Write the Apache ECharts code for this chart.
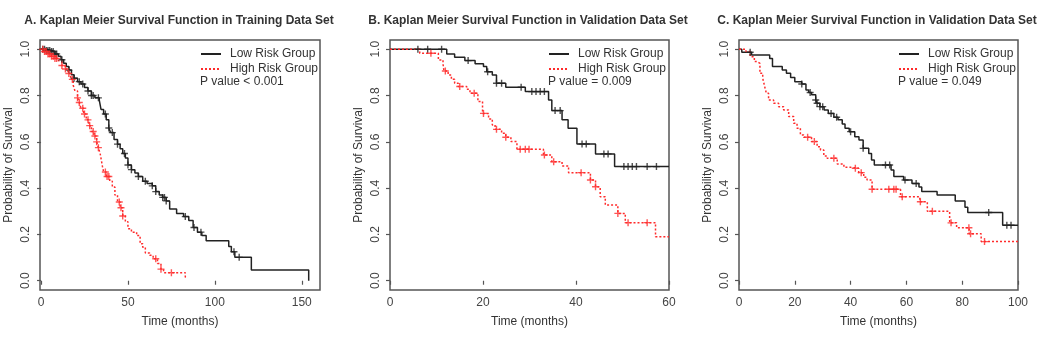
<!DOCTYPE html>
<html lang="en">
<head>
  <meta charset="UTF-8">
  <title>chart</title>
</head>
<body style="margin:0;background:#fff">
<div id="main" style="width: 1039px;height:352px;"></div>
<script src="https://cdn.jsdelivr.net/npm/echarts@6/dist/echarts.min.js"></script>
<script>
// step points: time (months) and survival after that time, plus censor times
var aLowT = [0, 3, 6, 8, 10, 11.5, 13, 14.5, 16, 17.5, 19, 21, 23, 25, 27, 29, 31, 33.5, 34.5, 36, 37.5, 39, 40, 42, 44, 45.5, 47, 48.5, 50, 52, 54, 56, 58.5, 61, 64, 66, 68, 70, 72, 74, 78, 82, 85, 87.5, 90, 92.5, 95, 108, 109.5, 111.5, 121, 154];
var aLowS = [1, 0.995, 0.99, 0.98, 0.97, 0.955, 0.94, 0.925, 0.91, 0.89, 0.875, 0.86, 0.85, 0.835, 0.82, 0.8, 0.79, 0.78, 0.74, 0.72, 0.695, 0.66, 0.64, 0.61, 0.59, 0.57, 0.55, 0.53, 0.5, 0.48, 0.465, 0.45, 0.43, 0.42, 0.41, 0.385, 0.37, 0.36, 0.345, 0.31, 0.29, 0.277, 0.26, 0.23, 0.21, 0.195, 0.173, 0.148, 0.125, 0.101, 0.046, 0];
var aLowCens = [1, 2, 3, 4, 5, 6, 7, 8, 9, 12, 16, 19, 22, 24, 27, 29, 30, 33, 37, 39, 41, 44, 48, 50, 52, 56, 60, 64, 66, 70, 71, 72, 83, 88, 92, 111, 114];
var aHighT = [0, 2, 4, 6, 8, 10, 12, 14, 15.5, 17, 18.5, 19.5, 21, 22, 23, 24.5, 26, 27.5, 29, 30.5, 32, 33, 34, 34.7, 35.3, 36, 37.5, 39.5, 41, 42.5, 44, 45.5, 47, 48.5, 50, 52, 55, 57, 58.5, 60, 62.5, 64.5, 67, 69, 70.5, 83, 84];
var aHighS = [1, 0.99, 0.98, 0.97, 0.96, 0.95, 0.93, 0.915, 0.895, 0.87, 0.845, 0.82, 0.79, 0.77, 0.745, 0.72, 0.695, 0.67, 0.645, 0.625, 0.6, 0.575, 0.55, 0.52, 0.495, 0.47, 0.45, 0.43, 0.405, 0.37, 0.34, 0.315, 0.28, 0.255, 0.225, 0.21, 0.195, 0.16, 0.145, 0.12, 0.11, 0.095, 0.075, 0.05, 0.035, 0.015, 0.015];
var aHighCens = [1, 2, 3, 4, 5, 6, 7, 8, 9, 12, 14, 16, 18, 21, 22, 24, 25, 27, 28, 30, 31, 32, 33, 37, 38, 39, 45, 46, 47, 66, 69, 75];

var bLowT = [0, 12.2, 13.9, 16.1, 18.3, 20.1, 20.8, 22, 22.9, 24.9, 29.1, 34.1, 34.8, 37, 38.3, 40.2, 44.2, 48.3, 60];
var bLowS = [1, 0.98, 0.965, 0.951, 0.937, 0.925, 0.903, 0.889, 0.853, 0.836, 0.817, 0.781, 0.735, 0.695, 0.659, 0.591, 0.548, 0.493, 0.493];
var bLowCens = [6, 8.1, 11.1, 16.8, 21, 22.9, 24, 28.2, 30.5, 31.4, 32.3, 33.2, 35.5, 36.6, 41.3, 42.2, 46, 46.9, 50.3, 51.2, 52.1, 53, 55.3, 57.3];
var bHighT = [0, 6.4, 10.4, 11.4, 11.6, 12.5, 13.2, 13.9, 14.7, 16.5, 17.2, 18.9, 19.9, 21.2, 22, 22.6, 24, 24.9, 26, 27.3, 33, 34.8, 37, 38.4, 43.1, 44.2, 45.2, 46.3, 49, 50.6, 57.1, 60];
var bHighS = [1, 0.983, 0.954, 0.937, 0.906, 0.889, 0.87, 0.853, 0.839, 0.827, 0.81, 0.774, 0.723, 0.699, 0.673, 0.654, 0.637, 0.62, 0.601, 0.568, 0.543, 0.514, 0.496, 0.467, 0.435, 0.406, 0.363, 0.327, 0.291, 0.251, 0.19, 0.19];
var bHighCens = [8.8, 11.9, 15, 18.1, 20.1, 22.9, 24.9, 28, 29.1, 29.9, 33.2, 35.2, 41.1, 43.1, 44.2, 49, 51.2, 55.3];

var cLowT = [0, 1, 4.5, 11, 12, 15.5, 17, 18.5, 20, 22.5, 24, 25, 26, 27.5, 28, 29, 30.5, 32, 34, 35.5, 37, 38, 39.5, 41.5, 43, 44.5, 46.5, 47.5, 48.5, 54.5, 55.5, 59, 62, 64.5, 65.5, 71, 77.5, 81, 82, 94.5, 100];
var cLowS = [1, 0.987, 0.975, 0.96, 0.925, 0.91, 0.896, 0.878, 0.86, 0.85, 0.824, 0.813, 0.803, 0.781, 0.767, 0.752, 0.738, 0.723, 0.706, 0.695, 0.677, 0.659, 0.644, 0.622, 0.608, 0.572, 0.55, 0.522, 0.5, 0.478, 0.45, 0.435, 0.42, 0.405, 0.385, 0.37, 0.345, 0.318, 0.295, 0.24, 0.24];
var cLowCens = [4, 22.5, 25.5, 27.5, 28, 29, 30, 33, 35, 40, 44.5, 52.5, 54, 59.5, 63.5, 89.5, 96, 97.5];
var cHighT = [0, 2.5, 4, 5.5, 6.5, 7.5, 8.5, 9.2, 9.8, 10.6, 12.4, 14.2, 16, 17.8, 19.6, 20.8, 22, 23.2, 26, 28, 29.2, 30.4, 31.6, 35.2, 37.6, 40, 42.9, 44.7, 45.9, 47.7, 57.9, 64.8, 67.5, 75.5, 78, 82.5, 86.8, 100];
var cHighS = [1, 0.99, 0.968, 0.947, 0.939, 0.896, 0.875, 0.839, 0.81, 0.781, 0.767, 0.752, 0.738, 0.709, 0.68, 0.659, 0.63, 0.62, 0.601, 0.579, 0.565, 0.539, 0.529, 0.504, 0.49, 0.486, 0.467, 0.447, 0.435, 0.395, 0.363, 0.341, 0.3, 0.25, 0.229, 0.203, 0.169, 0.169];
var cHighCens = [24.6, 27, 34, 41.7, 43.8, 47.7, 53.7, 55.5, 56.3, 58.5, 65, 69.3, 76, 82.4, 83, 88];

var aTicks = [0, 50, 100, 150];
var bTicks = [0, 20, 40, 60];
var cTicks = [0, 20, 40, 60, 80, 100];
var yTicks = [0, 0.2, 0.4, 0.6, 0.8, 1.0];

var titles = ['A. Kaplan Meier Survival Function in Training Data Set',
  'B. Kaplan Meier Survival Function in Validation Data Set',
  'C. Kaplan Meier Survival Function in Validation Data Set'];
var pValues = ['P value < 0.001', 'P value = 0.009', 'P value = 0.049'];
var groups = ['Low Risk Group', 'High Risk Group'];

var myChart = echarts.init(document.getElementById('main'));

var FONT = '"Liberation Sans", Arial, sans-serif';
var BLACK = '#222';
var RED = '#ff2b2b';
var PLUS = 'path://M4,0H6V4H10V6H6V10H4V6H0V4H4Z';

function survAt(ts, ss, t) {
  var v = ss[0];
  for (var i = 0; i < ts.length; i++) {
    if (ts[i] <= t) v = ss[i];
  }
  return v;
}

var panels = [
  {left: 40, width: 280, xMin: -0.6, xMax: 160.5, ticks: aTicks, low: [aLowT, aLowS, aLowCens], high: [aHighT, aHighS, aHighCens]},
  {left: 390, width: 279, xMin: 0, xMax: 60, ticks: bTicks, low: [bLowT, bLowS, bLowCens], high: [bHighT, bHighS, bHighCens]},
  {left: 739, width: 279, xMin: 0, xMax: 100, ticks: cTicks, low: [cLowT, cLowS, cLowCens], high: [cHighT, cHighS, cHighCens]}
];
var legendX = [200, 548, 898];
var titleX = [179, 528, 877];

var grid = [], xAxis = [], yAxis = [], series = [], title = [], legend = [];

panels.forEach(function (p, i) {
  grid.push({
    left: p.left, top: 40, width: p.width, height: 250,
    show: true, borderColor: '#555', borderWidth: 1.5,
    outerBoundsMode: 'none'
  });
  xAxis.push({
    type: 'value', gridIndex: i, min: p.xMin, max: p.xMax,
    name: 'Time (months)', nameLocation: 'middle', nameGap: 26,
    nameTextStyle: {fontFamily: FONT, fontSize: 12, color: '#333'},
    axisLine: {show: false},
    axisTick: {show: true, inside: false, length: 4, customValues: p.ticks, lineStyle: {color: '#555', width: 1.2}},
    axisLabel: {customValues: p.ticks, margin: 7, fontFamily: FONT, fontSize: 12, color: '#444'},
    splitLine: {show: false}
  });
  yAxis.push({
    type: 'value', gridIndex: i, min: -0.04, max: 1.04,
    name: 'Probability of Survival', nameLocation: 'middle', nameGap: 25, nameRotate: 90,
    nameTextStyle: {fontFamily: FONT, fontSize: 12, color: '#333'},
    axisLine: {show: false},
    axisTick: {show: true, inside: false, length: 4, customValues: yTicks, lineStyle: {color: '#555', width: 1.2}},
    axisLabel: {
      customValues: yTicks, rotate: 90, margin: 8, fontFamily: FONT, fontSize: 12, color: '#444',
      formatter: function (v) { return v.toFixed(1); }
    },
    splitLine: {show: false}
  });

  [[p.low, groups[0], BLACK, 'solid'], [p.high, groups[1], RED, [2, 2]]].forEach(function (g) {
    var ts = g[0][0], ss = g[0][1], cens = g[0][2];
    series.push({
      name: g[1], type: 'line', xAxisIndex: i, yAxisIndex: i,
      step: 'end', symbol: 'none', color: g[2],
      lineStyle: {color: g[2], width: 1.5, type: g[3]},
      data: ts.map(function (t, k) { return [t, ss[k]]; }),
      z: 3
    });
    series.push({
      name: g[1] + ' censored', type: 'scatter', xAxisIndex: i, yAxisIndex: i,
      symbol: PLUS, symbolSize: 7,
      itemStyle: {color: g[2]},
      data: cens.map(function (t) { return [t, survAt(ts, ss, t)]; }),
      z: 4
    });
  });

  title.push({
    text: titles[i], left: titleX[i], top: 15, textAlign: 'center', padding: 0,
    textStyle: {fontFamily: FONT, fontSize: 12, fontWeight: 'bold', color: '#333'}
  });
  title.push({
    text: pValues[i], left: legendX[i], top: 76, padding: 0,
    textStyle: {fontFamily: FONT, fontSize: 12, fontWeight: 'normal', color: '#333'}
  });
  legend.push({
    data: groups, orient: 'vertical', left: legendX[i], top: 48, padding: 0,
    itemWidth: 20, itemHeight: 10, itemGap: 3,
    itemStyle: {opacity: 0},
    textStyle: {fontFamily: FONT, fontSize: 12, color: '#333', padding: [0, 0, 0, 4]}
  });
});

myChart.setOption({
  animation: false,
  title: title,
  legend: legend,
  grid: grid,
  xAxis: xAxis,
  yAxis: yAxis,
  series: series
});
</script>
</body>
</html>
